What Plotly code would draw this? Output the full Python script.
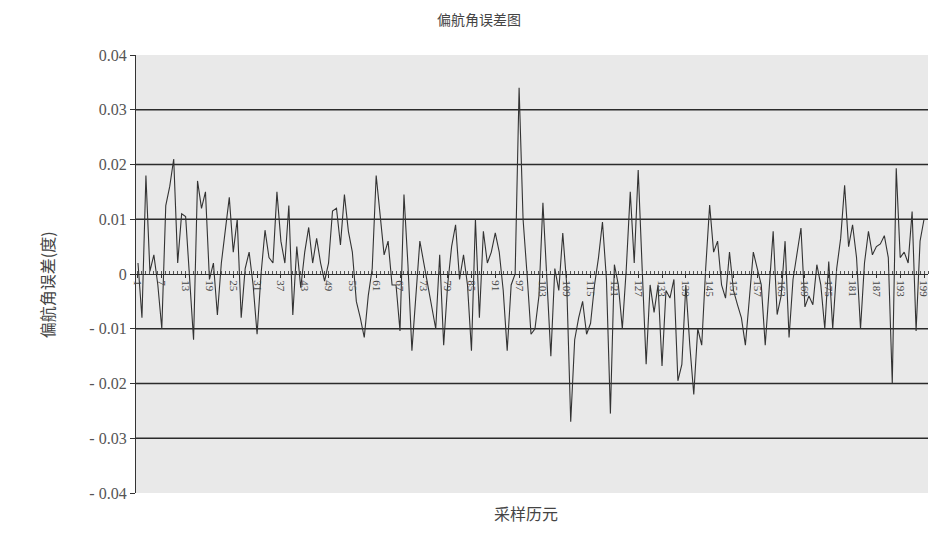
import plotly.graph_objects as go

title_text = "偏航角误差图"
x_title = "采样历元"
y_title = "偏航角误差(度)"

yaw_error = [
    0.002, -0.008, 0.018, 0.0005, 0.0035, -0.002, -0.010, 0.0125, 0.016, 0.021,
    0.002, 0.011, 0.0105, 0.0, -0.012, 0.017, 0.012, 0.015, -0.001, 0.002,
    -0.0075, 0.002, 0.008, 0.014, 0.004, 0.010, -0.008, 0.001, 0.004, -0.002,
    -0.011, 0.0, 0.008, 0.003, 0.002, 0.015, 0.006, 0.002, 0.0125, -0.0075,
    0.005, -0.0025, 0.004, 0.0085, 0.002, 0.0065, 0.002, -0.0013, 0.002, 0.0115,
    0.012, 0.0053, 0.0145, 0.0078, 0.004, -0.005, -0.008, -0.0116, -0.004, 0.001,
    0.018, 0.010, 0.0035, 0.006, -0.002, -0.002, -0.0104, 0.0145, 0.0017, -0.014,
    -0.003, 0.006, 0.002, -0.002, -0.006, -0.010, 0.0035, -0.013, -0.002, 0.005,
    0.009, -0.001, 0.0035, -0.002, -0.014, 0.010, -0.008, 0.0078, 0.002, 0.004,
    0.0075, 0.004, -0.003, -0.014, -0.002, 0.0, 0.034, 0.010, 0.0, -0.011,
    -0.010, -0.004, 0.013, -0.001, -0.015, 0.001, -0.003, 0.0075, -0.002, -0.027,
    -0.012, -0.008, -0.005, -0.011, -0.009, -0.002, 0.003, 0.0095, -0.001, -0.0255,
    0.0017, -0.002, -0.010, 0.001, 0.015, 0.002, 0.019, 0.001, -0.0165, -0.002,
    -0.007, -0.002, -0.0168, -0.003, -0.0044, -0.001, -0.0195, -0.0165, -0.002, -0.013,
    -0.022, -0.010, -0.013, 0.001, 0.0126, 0.004, 0.006, -0.002, -0.0044, 0.004,
    -0.003, -0.0056, -0.008, -0.013, -0.004, 0.004, 0.001, -0.002, -0.013, -0.002,
    0.0078, -0.0074, -0.004, 0.006, -0.0116, -0.001, 0.004, 0.0084, -0.006, -0.004,
    -0.0056, 0.0017, -0.002, -0.010, 0.0023, -0.010, 0.001, 0.0065, 0.0162, 0.005,
    0.009, 0.003, -0.010, 0.002, 0.0078, 0.0035, 0.005, 0.0055, 0.007, 0.003,
    -0.020, 0.0193, 0.003, 0.004, 0.002, 0.0114, -0.0104, 0.006, 0.010,
]
epochs = list(range(1, len(yaw_error) + 1))

x_tick_vals = list(range(1, 200, 6))
x_tick_text = [str(v) for v in x_tick_vals]
y_tick_vals = [-0.04, -0.03, -0.02, -0.01, 0.0, 0.01, 0.02, 0.03, 0.04]
y_tick_text = ["- 0.04", "- 0.03", "- 0.02", "- 0.01", "0", "0.01", "0.02", "0.03", "0.04"]
grid_levels = [-0.03, -0.02, -0.01, 0.01, 0.02, 0.03]

# page body has an 8px margin, so the figure is 8px smaller and offset
W, H = 930, 528

fig = go.Figure()
fig.add_trace(go.Scatter(
    x=epochs, y=yaw_error, mode="lines",
    line=dict(color="#333333", width=1.1),
    showlegend=False, hoverinfo="skip",
))

for g in grid_levels:
    fig.add_hline(y=g, line=dict(color="#2b2b2b", width=1.3), layer="below")

fig.update_layout(
    width=W, height=H,
    margin=dict(l=128, r=8, t=47, b=43),
    paper_bgcolor="#ffffff",
    plot_bgcolor="#e9e9e9",
    xaxis=dict(
        range=[0.5, 200.0], anchor="free", position=0.5,
        tickmode="array", tickvals=x_tick_vals, ticktext=x_tick_text,
        tickangle=90, tickfont=dict(family="Liberation Serif", size=11, color="#444444"),
        ticks="outside", ticklen=3, tickcolor="#333333",
        showline=True, linecolor="#2b2b2b", linewidth=1.3,
        showgrid=False, zeroline=False,
        minor=dict(ticks="inside", ticklen=3, dtick=1, tick0=1, tickcolor="#555555", showgrid=False),
    ),
    yaxis=dict(
        range=[-0.04, 0.04],
        tickmode="array", tickvals=y_tick_vals, ticktext=y_tick_text,
        tickfont=dict(family="Liberation Serif", size=16, color="#555555"),
        ticks="outside", ticklen=5, tickcolor="#333333",
        showline=True, linecolor="#333333", linewidth=1.2,
        showgrid=False, zeroline=False,
    ),
    annotations=[
        dict(text=title_text, xref="paper", yref="paper",
             x=(480 - 136) / 794, y=1 + (55 - 19) / 438, xanchor="center", yanchor="middle",
             showarrow=False, font=dict(family="Noto Sans CJK SC", size=14, color="#444444")),
        dict(text=x_title, xref="paper", yref="paper",
             x=(527 - 136) / 794, y=-20 / 438, xanchor="center", yanchor="middle",
             showarrow=False, font=dict(family="Noto Sans CJK SC", size=16, color="#444444")),
        dict(text=y_title, xref="paper", yref="paper", textangle=-90,
             x=(47 - 136) / 794, y=(493 - 285) / 438, xanchor="center", yanchor="middle",
             showarrow=False, font=dict(family="Noto Sans CJK SC", size=16, color="#444444")),
    ],
)

fig.write_html("out.html")
